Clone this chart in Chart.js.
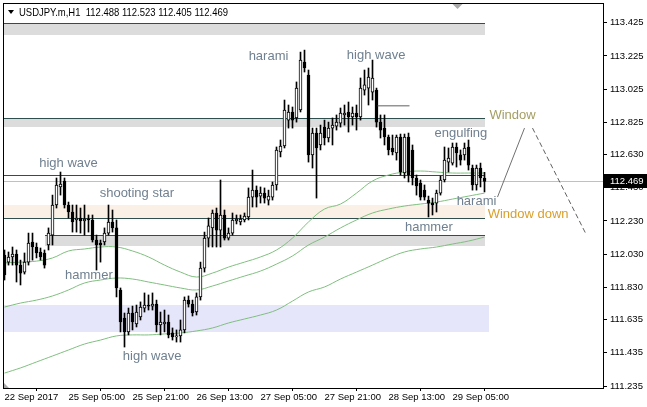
<!DOCTYPE html>
<html>
<head>
<meta charset="utf-8">
<style>
  html, body { margin: 0; padding: 0; background: #fff; }
</style>
<script src="https://cdn.jsdelivr.net/npm/chart.js@4.4.1/dist/chart.umd.min.js"></script>
</head>
<body>
<canvas id="chart" width="647" height="407"></canvas>
<script>
// USDJPY.m H1 candles (bar 0 = first visible bar)
const symbolTitle = "USDJPY.m,H1  112.488 112.523 112.405 112.469";

const opens = [
  112.025,111.982,112.013,112.031,111.964,111.922,111.982,112.103,112.073,112.043,
  112.037,112.085,112.145,112.326,112.435,112.471,112.326,112.284,112.236,112.248,
  112.230,112.242,112.236,112.115,112.097,112.103,112.157,112.224,112.188,111.814,
  111.645,111.561,111.675,111.609,111.651,111.705,111.723,111.717,111.729,111.603,
  111.609,111.621,111.555,111.531,111.537,111.573,111.753,111.729,111.681,111.772,
  111.946,112.127,112.188,112.278,112.175,112.266,112.127,112.157,112.230,112.224,
  112.236,112.254,112.374,112.416,112.380,112.398,112.356,112.374,112.447,112.646,
  112.682,112.838,112.887,112.851,112.899,113.188,113.110,112.628,112.760,112.688,
  112.796,112.730,112.790,112.802,112.820,112.869,112.887,112.857,112.881,112.857,
  113.019,113.031,113.007,113.019,112.826,112.790,112.736,112.670,112.640,112.736,
  112.519,112.736,112.658,112.489,112.459,112.416,112.356,112.338,112.338,112.398,
  112.477,112.585,112.579,112.676,112.628,112.628,112.676,112.549,112.447,112.549,
  112.488
];
const highs = [
  112.055,112.043,112.073,112.055,111.994,112.037,112.157,112.157,112.097,112.067,
  112.055,112.188,112.386,112.489,112.525,112.489,112.344,112.326,112.326,112.308,
  112.326,112.266,112.266,112.145,112.115,112.188,112.326,112.296,112.236,111.826,
  111.675,111.705,111.717,111.723,111.742,111.796,111.784,111.796,111.753,111.681,
  111.693,111.663,111.585,111.573,111.633,111.772,111.778,111.753,111.796,111.982,
  112.163,112.248,112.296,112.308,112.477,112.296,112.188,112.278,112.266,112.266,
  112.278,112.429,112.537,112.441,112.435,112.429,112.416,112.465,112.676,112.718,
  112.959,112.929,112.917,113.068,113.248,113.260,113.140,112.790,112.790,112.808,
  112.838,112.826,112.851,112.869,112.911,112.929,112.947,112.917,112.929,113.092,
  113.140,113.152,113.200,113.031,112.869,112.869,112.748,112.748,112.748,112.754,
  112.754,112.760,112.688,112.507,112.477,112.447,112.380,112.368,112.416,112.501,
  112.676,112.670,112.700,112.700,112.658,112.700,112.718,112.567,112.567,112.579,
  112.523
];
const lows = [
  111.874,111.964,111.964,111.862,111.844,111.910,111.964,111.994,112.007,111.994,
  111.946,112.055,112.085,112.308,112.386,112.308,112.248,112.163,112.163,112.157,
  112.145,112.163,112.103,111.934,111.982,112.085,112.145,112.163,111.772,111.561,
  111.470,111.543,111.573,111.591,111.633,111.681,111.693,111.693,111.561,111.543,
  111.561,111.525,111.512,111.500,111.500,111.555,111.711,111.657,111.663,111.753,
  111.922,112.073,112.073,112.073,112.073,112.115,112.115,112.145,112.212,112.206,
  112.224,112.236,112.314,112.314,112.338,112.338,112.326,112.356,112.416,112.616,
  112.670,112.790,112.790,112.826,112.887,113.128,112.585,112.549,112.368,112.658,
  112.688,112.706,112.688,112.778,112.796,112.808,112.766,112.808,112.778,112.838,
  112.989,112.929,112.959,112.796,112.730,112.688,112.628,112.628,112.597,112.507,
  112.489,112.465,112.447,112.386,112.356,112.356,112.254,112.266,112.284,112.386,
  112.465,112.525,112.567,112.555,112.567,112.597,112.537,112.416,112.416,112.435,
  112.405
];
const closes = [
  111.904,112.013,112.031,111.964,111.916,111.982,112.097,112.073,112.037,112.013,
  111.964,112.157,112.326,112.447,112.453,112.326,112.284,112.224,112.248,112.230,
  112.242,112.236,112.115,112.085,112.085,112.157,112.224,112.188,111.826,111.621,
  111.561,111.675,111.621,111.681,111.711,111.723,111.717,111.729,111.603,111.621,
  111.621,111.543,111.531,111.537,111.573,111.753,111.729,111.675,111.772,111.946,
  112.127,112.200,112.278,112.175,112.266,112.127,112.157,112.236,112.242,112.242,
  112.260,112.374,112.416,112.374,112.398,112.368,112.380,112.447,112.658,112.682,
  112.899,112.887,112.838,113.031,113.200,113.152,112.628,112.760,112.670,112.760,
  112.730,112.790,112.808,112.826,112.881,112.881,112.857,112.881,112.857,113.031,
  113.050,113.098,113.092,112.826,112.778,112.736,112.658,112.646,112.736,112.525,
  112.736,112.507,112.489,112.441,112.374,112.374,112.338,112.326,112.398,112.477,
  112.597,112.609,112.676,112.640,112.597,112.670,112.567,112.447,112.549,112.489,
  112.469
];

// moving averages, sampled every 4 bars
const maBars = [0,4,8,12,16,20,24,28,32,36,40,44,48,52,56,60,64,68,72,76,80,84,88,92,96,100,104,108,112,116,120];
const maFast = [111.977,111.982,111.988,112.007,112.049,112.061,112.073,112.073,112.049,112.013,111.964,111.922,111.892,111.916,111.952,111.982,112.013,112.055,112.127,112.224,112.302,112.332,112.398,112.471,112.507,112.525,112.531,112.525,112.519,112.519,112.519];
const maMid = [111.711,111.735,111.753,111.778,111.814,111.856,111.874,111.886,111.880,111.862,111.844,111.826,111.814,111.838,111.868,111.898,111.928,111.970,112.019,112.085,112.133,112.188,112.236,112.278,112.302,112.320,112.332,112.344,112.362,112.380,112.398];
const maSlow = [111.313,111.344,111.380,111.416,111.452,111.488,111.512,111.537,111.543,111.543,111.549,111.555,111.567,111.585,111.615,111.639,111.663,111.693,111.747,111.802,111.832,111.880,111.922,111.964,112.007,112.043,112.061,112.073,112.091,112.109,112.133];

// axis ticks
const xTickBars = [0,16,32,48,64,80,96,112];
const xTickLabels = ["22 Sep 2017","25 Sep 05:00","25 Sep 21:00","26 Sep 13:00","27 Sep 05:00","27 Sep 21:00","28 Sep 13:00","29 Sep 05:00"];
const yTickLabels = ["113.425","113.225","113.025","112.825","112.630","112.430","112.230","112.030","111.830","111.635","111.435","111.235"];

// drawn objects on the chart (bar index / price)
const zones = [
  { from: -0.375, to: 120, top: 113.425, bottom: 113.353, fill: "#DCDCDC", line: 113.425 },
  { from: -0.375, to: 120, top: 112.849, bottom: 112.798, fill: "#DCDCDC", line: 112.849 },
  { from: -0.375, to: 120, top: 112.505, bottom: 112.505, fill: null, line: 112.505 },
  { from: -0.375, to: 120, top: 112.326, bottom: 112.246, fill: "#FAF0E6", line: 112.246 },
  { from: 10, to: 120, top: 112.145, bottom: 112.079, fill: "#DCDCDC", line: 112.145 },
  { from: -0.375, to: 121, top: 111.723, bottom: 111.562, fill: "#E6E6FA", line: null }
];
const trendLines = [
  { x1: 93.25, y1: 112.924, x2: 101.25, y2: 112.924, color: "#606060", dash: [] },
  { x1: 123.25, y1: 112.374, x2: 130, y2: 112.790, color: "#707070", dash: [] },
  { x1: 132, y1: 112.790, x2: 145.25, y2: 112.157, color: "#606060", dash: [5, 3] }
];
const labels = [
  { text: "harami", x: 66, y: 113.220, color: "#708090" },
  { text: "high wave", x: 92.9, y: 113.226, color: "#708090" },
  { text: "high wave", x: 16, y: 112.577, color: "#708090" },
  { text: "shooting star", x: 33.1, y: 112.396, color: "#708090" },
  { text: "engulfing", x: 114.1, y: 112.758, color: "#708090" },
  { text: "Window", x: 127, y: 112.864, color: "#A39E62" },
  { text: "harami", x: 118, y: 112.346, color: "#708090" },
  { text: "Window down", x: 130.9, y: 112.270, color: "#D9A02A" },
  { text: "hammer", x: 106.1, y: 112.192, color: "#708090" },
  { text: "hammer", x: 21.1, y: 111.900, color: "#708090" },
  { text: "high wave", x: 36.9, y: 111.412, color: "#708090" }
];

const lastPrice = closes[closes.length - 1];
const bodies = opens.map((o, i) => ({ x: i, y: [o, closes[i]] }));
const wicks = lows.map((l, i) => ({ x: i, y: [l, highs[i]] }));
const maPoints = arr => arr.map((v, i) => ({ x: maBars[i], y: v }));

function fitText(ctx, text, x, y, maxW) {
  const w = ctx.measureText(text).width;
  ctx.save();
  ctx.translate(x, y);
  if (w > maxW) ctx.scale(maxW / w, 1);
  ctx.fillText(text, 0, 0);
  ctx.restore();
}

const overlay = {
  id: "overlay",
  beforeDatasetsDraw(chart) {
    const { ctx, chartArea: ca, scales: { x, y } } = chart;
    ctx.save();
    ctx.beginPath();
    ctx.rect(ca.left, ca.top, ca.right - ca.left, ca.bottom - ca.top);
    ctx.clip();
    zones.forEach(z => {
      const x1 = Math.round(x.getPixelForValue(z.from));
      const x2 = Math.round(x.getPixelForValue(z.to));
      if (z.fill) {
        const y1 = Math.round(y.getPixelForValue(z.top));
        const y2 = Math.round(y.getPixelForValue(z.bottom));
        ctx.fillStyle = z.fill;
        ctx.fillRect(x1, y1, x2 - x1, y2 - y1);
      }
      if (z.line !== null) {
        const ly = Math.round(y.getPixelForValue(z.line)) + 0.5;
        ctx.strokeStyle = "#2F4F4F";
        ctx.lineWidth = 1;
        ctx.beginPath();
        ctx.moveTo(x1, ly);
        ctx.lineTo(x2, ly);
        ctx.stroke();
      }
    });
    // bid line
    const by = Math.round(y.getPixelForValue(lastPrice)) + 0.5;
    ctx.strokeStyle = "#C0C0C0";
    ctx.beginPath();
    ctx.moveTo(ca.left, by);
    ctx.lineTo(ca.right, by);
    ctx.stroke();
    ctx.restore();
  },
  afterDatasetsDraw(chart) {
    const { ctx, chartArea: ca, scales: { x, y } } = chart;
    ctx.save();
    ctx.beginPath();
    ctx.rect(ca.left, ca.top, ca.right - ca.left, ca.bottom - ca.top);
    ctx.clip();
    trendLines.forEach(t => {
      ctx.strokeStyle = t.color;
      ctx.lineWidth = 1;
      ctx.setLineDash(t.dash);
      ctx.beginPath();
      ctx.moveTo(x.getPixelForValue(t.x1), y.getPixelForValue(t.y1));
      ctx.lineTo(x.getPixelForValue(t.x2), y.getPixelForValue(t.y2));
      ctx.stroke();
    });
    ctx.setLineDash([]);
    ctx.font = "13px 'Liberation Sans', Arial, sans-serif";
    ctx.textAlign = "center";
    ctx.textBaseline = "middle";
    labels.forEach(l => {
      ctx.fillStyle = l.color;
      ctx.fillText(l.text, x.getPixelForValue(l.x), y.getPixelForValue(l.y));
    });
    ctx.restore();
  },
  afterDraw(chart) {
    const { ctx, chartArea: ca, scales: { x, y } } = chart;
    ctx.save();
    // frame
    ctx.strokeStyle = "#000";
    ctx.lineWidth = 1;
    ctx.strokeRect(ca.left + 0.5, ca.top + 0.5, ca.right - ca.left, ca.bottom - ca.top);
    // chart shift marker
    const sx = Math.round(x.getPixelForValue(113.25)) + 0.5;
    ctx.fillStyle = "#A9A9A9";
    ctx.beginPath();
    ctx.moveTo(sx - 5, ca.top + 1);
    ctx.lineTo(sx + 5, ca.top + 1);
    ctx.lineTo(sx, ca.top + 6);
    ctx.closePath();
    ctx.fill();
    // corner marker
    ctx.beginPath();
    ctx.moveTo(ca.left + 1, ca.bottom - 5);
    ctx.lineTo(ca.left + 6, ca.bottom);
    ctx.lineTo(ca.left + 1, ca.bottom);
    ctx.closePath();
    ctx.fill();
    // header
    ctx.fillStyle = "#000";
    ctx.beginPath();
    ctx.moveTo(8, 10);
    ctx.lineTo(14, 10);
    ctx.lineTo(11, 14);
    ctx.closePath();
    ctx.fill();
    ctx.font = "11px 'Liberation Sans', Arial, sans-serif";
    ctx.textAlign = "left";
    ctx.textBaseline = "middle";
    fitText(ctx, symbolTitle, 19, 12.5, 209);
    // last price box
    const py = Math.round(y.getPixelForValue(lastPrice));
    ctx.fillStyle = "#000";
    ctx.fillRect(ca.right + 1, py - 7, 647 - ca.right - 1, 14);
    ctx.fillStyle = "#fff";
    ctx.font = "9.5px 'Liberation Sans', Arial, sans-serif";
    ctx.fillText(lastPrice.toFixed(3), ca.right + 7, py + 0.5);
    ctx.restore();
  }
};

const tickFont = { family: "'Liberation Sans', Arial, sans-serif", size: 9.5 };

new Chart(document.getElementById("chart"), {
  type: "bar",
  data: {
    datasets: [
      {
        label: "body",
        data: bodies,
        grouped: false,
        barThickness: 3,
        minBarLength: 1,
        borderWidth: 1,
        borderColor: "#000",
        borderSkipped: false,
        backgroundColor: ctx => closes[ctx.dataIndex] >= opens[ctx.dataIndex] ? "#fff" : "#000",
        order: 1
      },
      {
        label: "wick",
        data: wicks,
        grouped: false,
        barThickness: 1,
        borderWidth: 0,
        backgroundColor: "#000",
        order: 2
      },
      { type: "line", label: "MA fast", data: maPoints(maFast), borderColor: "#7FBF7F", borderWidth: 1, pointRadius: 0, tension: 0.4, order: 3 },
      { type: "line", label: "MA mid", data: maPoints(maMid), borderColor: "#7FBF7F", borderWidth: 1, pointRadius: 0, tension: 0.4, order: 3 },
      { type: "line", label: "MA slow", data: maPoints(maSlow), borderColor: "#7FBF7F", borderWidth: 1, pointRadius: 0, tension: 0.4, order: 3 }
    ]
  },
  options: {
    responsive: false,
    animation: false,
    events: [],
    layout: { padding: { left: 3, top: 3, right: 0, bottom: 0 } },
    plugins: { legend: { display: false }, tooltip: { enabled: false } },
    scales: {
      x: {
        type: "linear",
        min: -0.375,
        max: 149.625,
        offset: false,
        afterBuildTicks: s => { s.ticks = xTickBars.map(v => ({ value: v })); },
        afterFit: s => { s.height = 19; s.paddingLeft = 0; s.paddingRight = 0; },
        border: { display: false },
        grid: { drawOnChartArea: false, drawTicks: true, tickLength: 3, color: "#000" },
        ticks: {
          autoSkip: false,
          maxRotation: 0,
          align: "start",
          padding: 1,
          color: "#000",
          font: tickFont,
          callback: (v, i) => xTickLabels[i]
        }
      },
      y: {
        type: "linear",
        position: "right",
        min: 111.223,
        max: 113.544,
        afterBuildTicks: s => { s.ticks = yTickLabels.map(t => ({ value: parseFloat(t) })); },
        afterFit: s => { s.width = 44; s.paddingTop = 0; s.paddingBottom = 0; },
        border: { display: false },
        grid: { drawOnChartArea: false, drawTicks: true, tickLength: 4, color: "#000" },
        ticks: {
          padding: 3,
          color: "#000",
          font: tickFont,
          callback: (v, i) => yTickLabels[i]
        }
      }
    }
  },
  plugins: [overlay]
});
</script>
</body>
</html>
